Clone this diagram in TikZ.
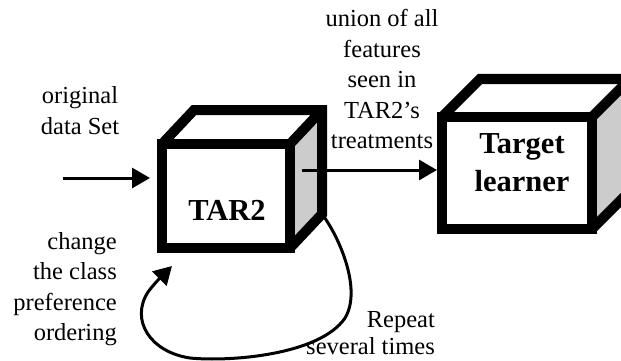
\documentclass[tikz,border=0pt]{standalone}
\usepackage{fontspec}
\setmainfont{Liberation Serif}
\usetikzlibrary{arrows.meta, calc, backgrounds}
\definecolor{sidegray}{RGB}{204,204,204}

\begin{document}
\begin{tikzpicture}[x=1pt, y=-1pt, >={Triangle[length=18pt, width=20pt]},
  face/.style={draw, line width=10pt, fill=white, outer sep=0pt, inner sep=0pt},
  edge/.style={line width=10pt},
  flow/.style={->, line width=3pt},
  txt/.style={font=\fontsize{24.5}{30.5}\selectfont, inner sep=0pt},
  boldtxt/.style={font=\fontsize{30.5}{38}\selectfont\bfseries, inner sep=0pt, align=center}]

\useasboundingbox (0,0) rectangle (621,361);
\clip (0,0) rectangle (621,361);

% === Cubo TAR2 ===
\node[face, minimum width=128pt, minimum height=104pt] (tar2) at (226,196) {};
\coordinate (tar2-bnw) at ($(tar2.north west)+(32,-34)$);
\coordinate (tar2-bne) at ($(tar2.north east)+(32,-34)$);
\coordinate (tar2-bse) at ($(tar2.south east)+(32,-34)$);
\begin{scope}[on background layer]
    \fill[sidegray] (tar2.north east) -- (tar2-bne) -- (tar2-bse) -- (tar2.south east) -- cycle;
\end{scope}
\draw[edge] (tar2.north west) -- (tar2-bnw) -- (tar2-bne) -- (tar2-bse) -- (tar2.south east);
\draw[edge] (tar2.north east) -- (tar2-bne);
\node[boldtxt] (tar2-lbl) at ($(tar2.center)+(1,14)$) {TAR2};

% === Cubo Target learner ===
\node[face, minimum width=150pt, minimum height=112pt] (target) at (517,173) {};
\coordinate (target-bnw) at ($(target.north west)+(38,-38)$);
\coordinate (target-bne) at ($(target.north east)+(38,-38)$);
\coordinate (target-bse) at ($(target.south east)+(38,-38)$);
\begin{scope}[on background layer]
    \fill[sidegray] (target.north east) -- (target-bne) -- (target-bse) -- (target.south east) -- cycle;
\end{scope}
\draw[edge] (target.north west) -- (target-bnw) -- (target-bne) -- (target-bse) -- (target.south east);
\draw[edge] (target.north east) -- (target-bne);
\node[boldtxt] (target-lbl) at ($(target.center)+(5,-10.5)$) {Target\\learner};

% === Textos ===
\node[txt, align=center] (orig) at (80,110.5) {original\\data Set};
\node[txt, align=center] (union) at (382,79) {union of all\\features\\seen in\\TAR2’s\\treatments};
\node[txt, align=right, anchor=east] (change) at (117,289) {change\\the class\\preference\\ordering};
\node[txt, align=right, anchor=east, font=\fontsize{24.5}{27}\selectfont] (repeat) at (435,333.5) {Repeat\\several times};

% === Flechas ===
\coordinate (input) at (63,178);
\draw[flow, shorten >=12pt] (input) -- (input -| tar2.west);

\coordinate (feat) at ($(tar2.east)+(12,-26)$);
\draw[flow, shorten >=5pt] (feat) -- (feat -| target.west);

\coordinate (loopend) at ($(tar2.south west)+(10,18)$);
\draw[flow] (tar2-bse) .. controls (340,238) and (362,290) .. (345,318)
    .. controls (320,355) and (230,362) .. (190,358)
    .. controls (150,352) and (130,320) .. (148,292)
    .. controls (154,284) and (160,278) .. (loopend);

\end{tikzpicture}
\end{document}
